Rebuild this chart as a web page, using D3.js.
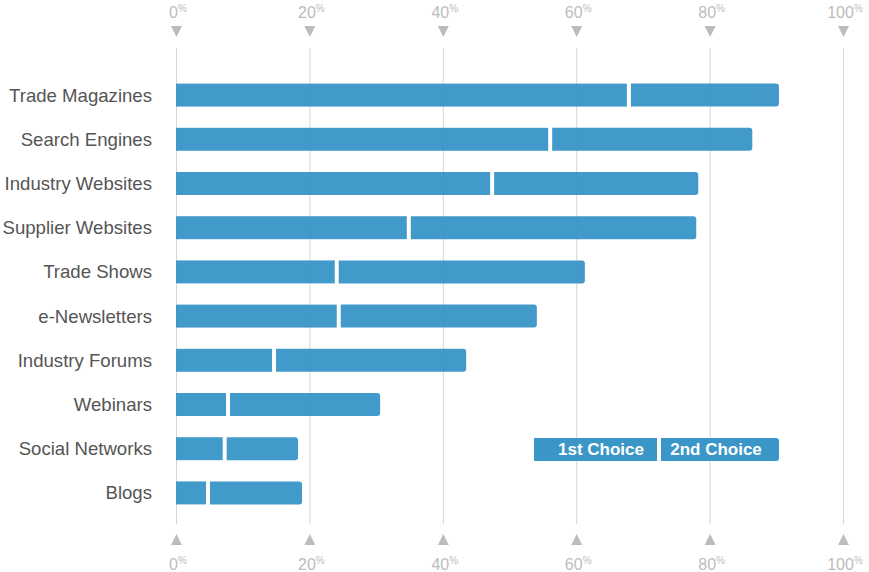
<!DOCTYPE html>
<html>
<head>
<meta charset="utf-8">
<script src="https://cdn.jsdelivr.net/npm/d3@7"></script>
<style>
  body { margin: 0; background: #fff; }
  svg { display: block; font-family: "Liberation Sans", Arial, sans-serif; }
</style>
</head>
<body>
<div id="chart"></div>
<script>
// values (percent)
var categories = ["Trade Magazines", "Search Engines", "Industry Websites", "Supplier Websites",
  "Trade Shows", "e-Newsletters", "Industry Forums", "Webinars", "Social Networks", "Blogs"];
var firstChoice = [67.6, 55.8, 47.1, 34.6, 23.8, 24.1, 14.4, 7.5, 7.0, 4.5];
var bothChoices = [90.4, 86.4, 78.3, 78.0, 61.3, 54.1, 43.5, 30.6, 18.3, 18.9];
var tickValues = [0, 20, 40, 60, 80, 100];
var legendLabels = ["1st Choice", "2nd Choice"];

var width = 869, height = 572;
var barColor = "#3b96c8";
var gridColor = "#d6d6d6";
var tickColor = "#bcbcbc";

var svg = d3.select("#chart").append("svg")
  .attr("width", width)
  .attr("height", height);

var x = d3.scaleLinear().domain([0, 100]).range([176, 843]);
var y = d3.scaleBand().domain(categories).range([73, 515]).paddingInner(0.48).paddingOuter(0.24);

// grid lines
svg.append("g").selectAll("line")
  .data(tickValues)
  .enter()
  .append("line")
  .attr("x1", d => x(d) + 0.5)
  .attr("x2", d => x(d) + 0.5)
  .attr("y1", 48)
  .attr("y2", 524)
  .attr("stroke", gridColor)
  .attr("stroke-width", 1);

// top and bottom tick labels and triangles
function tickRow(labelY, triY, up) {
  var g = svg.append("g");
  var lab = g.selectAll("text")
    .data(tickValues)
    .enter()
    .append("text")
    .attr("x", d => x(d) + 2)
    .attr("y", labelY)
    .attr("text-anchor", "middle")
    .attr("fill", tickColor)
    .style("font-size", "16px");
  lab.append("tspan").text(d => d);
  lab.append("tspan").text("%").style("font-size", "10px").attr("dy", -6);

  g.selectAll("path")
    .data(tickValues)
    .enter()
    .append("path")
    .attr("d", function(d) {
      var cx = x(d) + 0.5;
      if (up) return "M" + (cx - 5.5) + "," + (triY + 11) + "L" + (cx + 5.5) + "," + (triY + 11) + "L" + cx + "," + triY + "Z";
      return "M" + (cx - 5.5) + "," + triY + "L" + (cx + 5.5) + "," + triY + "L" + cx + "," + (triY + 11) + "Z";
    })
    .attr("fill", tickColor);
}
tickRow(18, 26, false);
tickRow(570, 534, true);

// category labels
svg.append("g").selectAll("text")
  .data(categories)
  .enter()
  .append("text")
  .attr("x", 152)
  .attr("y", d => y(d) + y.bandwidth() / 2)
  .attr("dy", "0.35em")
  .attr("text-anchor", "end")
  .attr("fill", "#555")
  .style("font-size", "18.6px")
  .text(d => d);

// right-rounded rect
function roundRight(x0, y0, w, h, r) {
  return "M" + x0 + "," + y0 + "H" + (x0 + w - r) + "Q" + (x0 + w) + "," + y0 + " " + (x0 + w) + "," + (y0 + r) +
    "V" + (y0 + h - r) + "Q" + (x0 + w) + "," + (y0 + h) + " " + (x0 + w - r) + "," + (y0 + h) + "H" + x0 + "Z";
}

var bars = svg.append("g").attr("opacity", 0.96);
bars.selectAll(".first")
  .data(categories)
  .enter()
  .append("rect")
  .attr("class", "first")
  .attr("x", x(0))
  .attr("y", d => y(d))
  .attr("width", (d, i) => x(firstChoice[i]) - x(0))
  .attr("height", y.bandwidth())
  .attr("fill", barColor);

bars.selectAll(".second")
  .data(categories)
  .enter()
  .append("path")
  .attr("class", "second")
  .attr("d", function(d, i) {
    var s = x(firstChoice[i]) + 4;
    return roundRight(s, y(d), x(bothChoices[i]) - s, y.bandwidth(), 3);
  })
  .attr("fill", barColor);

// legend
var legend = svg.append("g");
legend.append("rect").attr("x", 534).attr("y", 438).attr("width", 123).attr("height", 23).attr("fill", barColor);
legend.append("path").attr("d", roundRight(661, 438, 118, 23, 3)).attr("fill", barColor);
legend.selectAll("text")
  .data(legendLabels)
  .enter()
  .append("text")
  .attr("x", (d, i) => i == 0 ? 601 : 716)
  .attr("y", 455)
  .attr("text-anchor", "middle")
  .attr("fill", "#fff")
  .style("font-size", "17px")
  .style("font-weight", "bold")
  .text(d => d);
</script>
</body>
</html>
